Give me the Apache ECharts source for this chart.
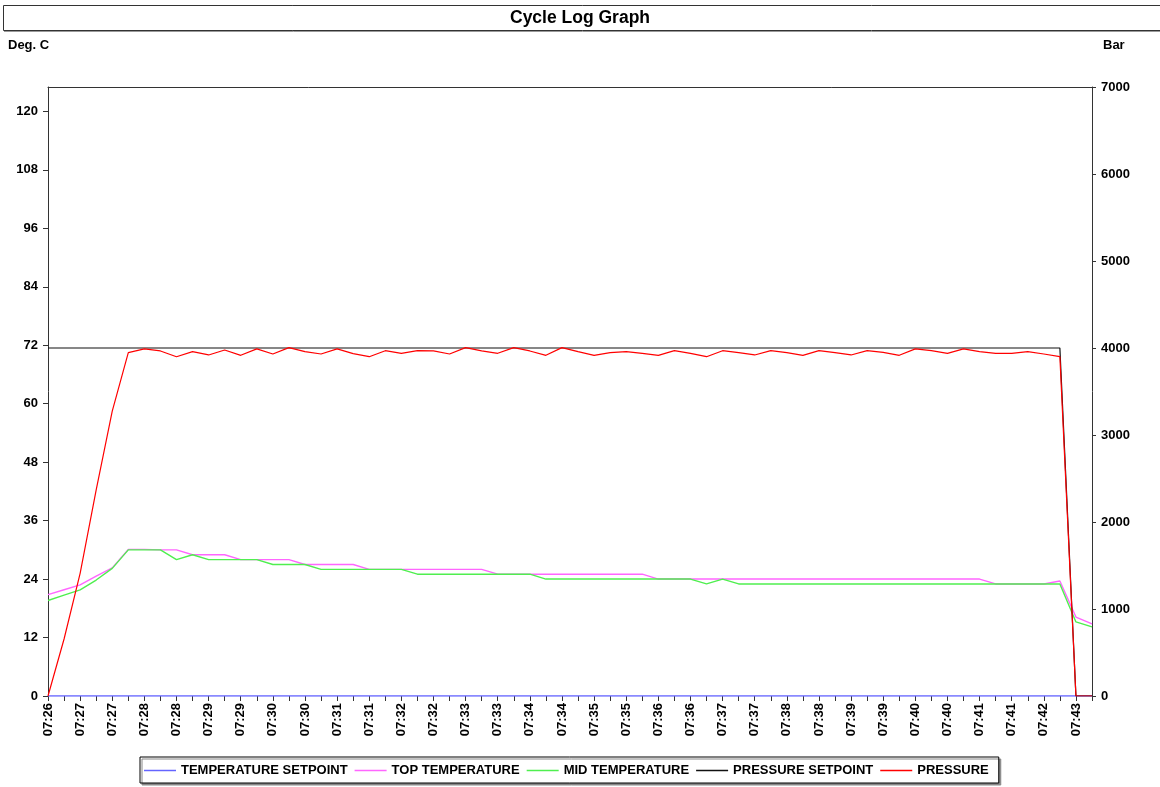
<!DOCTYPE html>
<html>
<head>
<meta charset="utf-8">
<title>Cycle Log Graph</title>
<script src="https://cdn.jsdelivr.net/npm/echarts@6/dist/echarts.min.js"></script>
<style>
  html, body { margin: 0; padding: 0; background: #fff; }
  #chart { width: 1160px; height: 787px; }
</style>
</head>
<body>
<div id="chart"></div>
<script>
// Time labels, one per two samples (samples every ~15 s)
const timeLabels = ['07:26','07:27','07:27','07:28','07:28','07:29','07:29','07:30','07:30',
  '07:31','07:31','07:32','07:32','07:33','07:33','07:34','07:34','07:35','07:35','07:36',
  '07:36','07:37','07:37','07:38','07:38','07:39','07:39','07:40','07:40','07:41','07:41',
  '07:42','07:43'];

// Deg. C
const temperatureSetpoint = [0,0,0,0,0,0,0,0,0,0,0,0,0,0,0,0,0,0,0,0,0,0,0,0,0,0,0,0,0,0,0,0,0,
  0,0,0,0,0,0,0,0,0,0,0,0,0,0,0,0,0,0,0,0,0,0,0,0,0,0,0,0,0,0,0,0,0];
const topTemperature = [20.8,21.8,22.8,24.6,26.3,30.1,30.1,30,30,29,29,29,28,28,28,28,27,27,27,27,
  26,26,26,26,26,26,26,26,25,25,25,25,25,25,25,25,25,25,
  24,24,24,24,24,24,24,24,24,24,24,24,24,24,24,24,24,24,24,24,24,
  23,23,23,23,23.6,16.2,14.8];
const midTemperature = [19.6,20.7,21.8,23.8,26.2,30,30,30,28,29,28,28,28,28,27,27,27,
  26,26,26,26,26,26,25,25,25,25,25,25,25,25,
  24,24,24,24,24,24,24,24,24,24,23,24,
  23,23,23,23,23,23,23,23,23,23,23,23,23,23,23,23,23,23,23,23,23,15.2,14.2];

// Bar
const pressureSetpoint = [4000,4000,4000,4000,4000,4000,4000,4000,4000,4000,4000,4000,4000,4000,
  4000,4000,4000,4000,4000,4000,4000,4000,4000,4000,4000,4000,4000,4000,4000,4000,4000,4000,
  4000,4000,4000,4000,4000,4000,4000,4000,4000,4000,4000,4000,4000,4000,4000,4000,4000,4000,
  4000,4000,4000,4000,4000,4000,4000,4000,4000,4000,4000,4000,4000,4000,0,0];
const pressure = [0,655,1410,2370,3275,3946,3989,3966,3900,3958,3920,3977,3916,3990,3931,4004,
  3958,3931,3990,3935,3900,3969,3939,3969,3966,3931,4004,3966,3939,4004,3966,3916,4004,3958,
  3916,3946,3958,3939,3916,3969,3939,3900,3969,3946,3920,3969,3946,3916,3969,3946,3920,3969,
  3950,3916,3990,3969,3939,3990,3958,3939,3939,3958,3931,3900,0,0];

const seriesNames = ['TEMPERATURE SETPOINT','TOP TEMPERATURE','MID TEMPERATURE','PRESSURE SETPOINT','PRESSURE'];
const seriesColors = ['#6464ff','#ff66ff','#4fef4f','#111111','#ff0000'];

// One category per sample; only every other sample carries a time label
const categories = [];
for (let i = 0; i < pressure.length; i++) {
  categories.push(i % 2 === 0 ? (timeLabels[i / 2] || '') : '');
}

const FONT = "'Liberation Sans', Arial, sans-serif";
const labelStyle = { fontFamily: FONT, fontSize: 13, fontWeight: 'bold', color: '#000' };

function lineSeries(idx, data, yAxisIndex, width) {
  return {
    name: seriesNames[idx],
    type: 'line',
    yAxisIndex: yAxisIndex,
    data: data,
    symbol: 'none',
    showSymbol: false,
    smooth: false,
    animation: false,
    color: seriesColors[idx],
    lineStyle: { color: seriesColors[idx], width: width },
    emphasis: { disabled: true },
    z: 3
  };
}

const chart = echarts.init(document.getElementById('chart'), null, { renderer: 'canvas' });
chart.setOption({
  animation: false,
  backgroundColor: '#fff',
  color: seriesColors,
  title: {
    text: 'Cycle Log Graph',
    left: 'center',
    top: 9,
    padding: 0,
    textStyle: { fontFamily: FONT, fontSize: 17.5, fontWeight: 'bold', color: '#000' }
  },
  graphic: [
    { type: 'rect', shape: { x: 3.5, y: 5.5, width: 1170, height: 25 },
      style: { fill: 'none', stroke: '#333', lineWidth: 1 }, silent: true },
    { type: 'line', shape: { x1: 4, y1: 31.5, x2: 1170, y2: 31.5 },
      style: { stroke: '#999', lineWidth: 1 }, silent: true },
    { type: 'text', left: 8, top: 39,
      style: { text: 'Deg. C', font: "bold 13px 'Liberation Sans', Arial, sans-serif", fill: '#000' } },
    { type: 'text', left: 1103, top: 39,
      style: { text: 'Bar', font: "bold 13px 'Liberation Sans', Arial, sans-serif", fill: '#000' } }
  ],
  legend: {
    data: seriesNames,
    left: 140,
    top: 757,
    orient: 'horizontal',
    icon: 'rect',
    itemWidth: 32,
    itemHeight: 1.5,
    itemGap: 7,
    padding: [7, 10, 6, 4],
    borderColor: '#000',
    borderWidth: 1,
    backgroundColor: '#fff',
    shadowColor: '#888',
    shadowOffsetX: 2,
    shadowOffsetY: 2,
    shadowBlur: 0,
    selectedMode: false,
    textStyle: labelStyle
  },
  grid: {
    left: 48, right: 68, top: 87, bottom: 91,
    show: false
  },
  xAxis: [
    {
      type: 'category',
      position: 'bottom',
      data: categories,
      boundaryGap: false,
      axisLine: { show: false, onZero: false },
      axisTick: { show: true, interval: 0, length: 5, lineStyle: { color: '#333' } },
      axisLabel: Object.assign({ interval: 0, rotate: 90, margin: 7 }, labelStyle),
      splitLine: { show: false }
    },
    {
      // top frame edge of the plot area
      type: 'category',
      position: 'top',
      data: categories,
      boundaryGap: false,
      axisLine: { show: true, onZero: false, lineStyle: { color: '#333', width: 1 } },
      axisTick: { show: false },
      axisLabel: { show: false },
      splitLine: { show: false }
    }
  ],
  yAxis: [
    {
      type: 'value',
      position: 'left',
      min: 0, max: 125, interval: 12,
      axisLine: { show: true, lineStyle: { color: '#333', width: 1 } },
      axisTick: { show: true, length: 5, lineStyle: { color: '#333' } },
      axisLabel: Object.assign({ margin: 10, showMaxLabel: false }, labelStyle),
      splitLine: { show: false }
    },
    {
      type: 'value',
      position: 'right',
      min: 0, max: 7000, interval: 1000,
      axisLine: { show: true, lineStyle: { color: '#333', width: 1 } },
      axisTick: { show: true, length: 4, lineStyle: { color: '#333' } },
      axisLabel: Object.assign({ margin: 9, formatter: function (v) { return String(v); } }, labelStyle),
      splitLine: { show: false }
    }
  ],
  series: [
    lineSeries(0, temperatureSetpoint, 0, 1.5),
    lineSeries(1, topTemperature, 0, 1.4),
    lineSeries(2, midTemperature, 0, 1.4),
    lineSeries(3, pressureSetpoint, 1, 1.2),
    lineSeries(4, pressure, 1, 1.2)
  ]
});
</script>
</body>
</html>
